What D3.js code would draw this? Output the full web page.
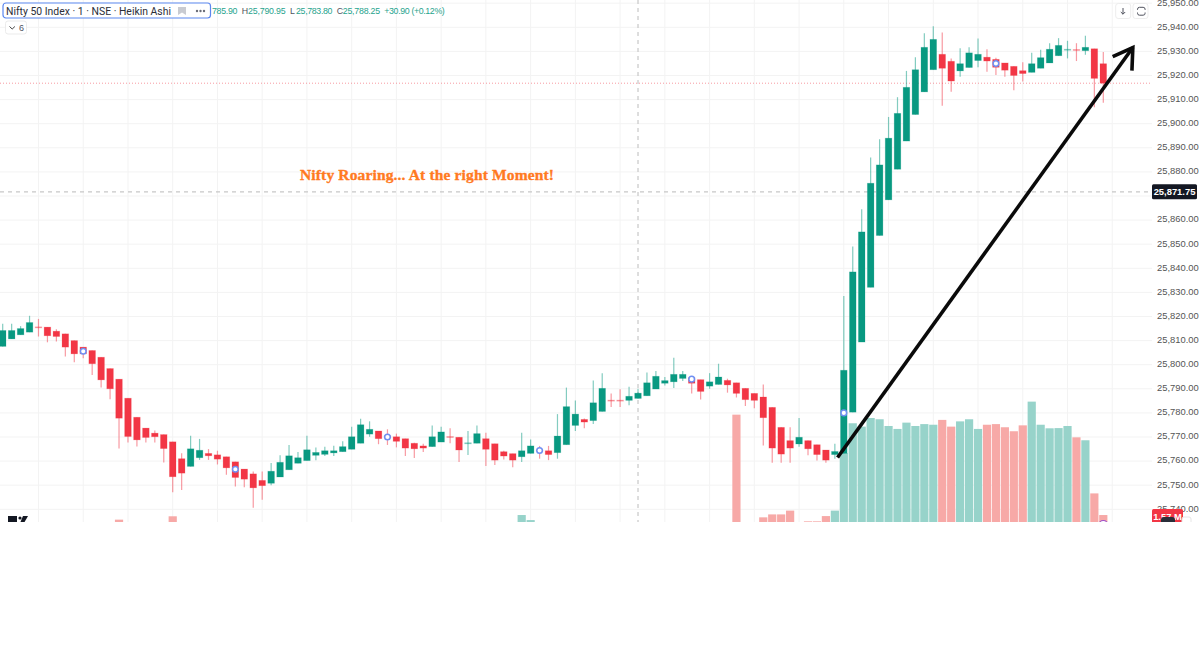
<!DOCTYPE html>
<html>
<head>
<meta charset="utf-8">
<script src="https://cdn.jsdelivr.net/npm/d3@7"></script>
<style>
  html, body { margin: 0; padding: 0; background: #fff; }
  svg { display: block; font-family: "Liberation Sans", sans-serif; }
</style>
</head>
<body>
<svg id="chart" width="1200" height="648"></svg>
<script>
// values, one entry per 1 minute candle
const opens = [25807.6,25810.7,25812.4,25813.5,25815.7,25815.6,25813.9,25812.8,25810,25807.3,
  25805.9,25803.1,25798.4,25794,25786.1,25778.2,25773.7,25771.6,25771,25768,
  25761,25757.8,25761.4,25763.2,25762.6,25761.8,25759.7,25756.7,25754.7,25752,
  25750.8,25753.4,25756.4,25759.1,25760.2,25762.4,25762.8,25763.4,25763.9,25764.9,
  25767.4,25771.2,25772.5,25770.5,25770.1,25769.3,25767.4,25766.3,25766,25767.9,
  25770.2,25769.9,25767.4,25767.4,25769.3,25767.2,25763.9,25763.1,25761.8,25763.2,
  25764.6,25764.3,25763.5,25766.8,25774.8,25777.3,25776.8,25780.6,25785.3,25785.3,
  25785.2,25786,25787.1,25789.9,25792.3,25792.9,25794.3,25794.6,25793.8,25791.1,
  25791.8,25793.5,25792.5,25790.2,25788.1,25786.6,25782.3,25774,25768.5,25767.1,
  25768.5,25766.8,25764.6,25762.7,25763.2,25780.3,25809.4,25832.1,25853.6,25868.4,
  25881.1,25892.8,25903.8,25913.2,25922.4,25928.8,25925.9,25921.9,25923.3,25926.2,
  25927.6,25926.7,25925.2,25923.8,25922,25921.3,25923,25925.2,25928.2,25930.5,
  25930.8,25930.3,25931.1,25924.9];
const closes = [25814.2,25814.2,25815,25817.5,25815.5,25812,25811.7,25807.3,25804.5,25804.5,
  25800.4,25793.7,25790,25777.8,25770.2,25768.8,25769.8,25770.1,25765.2,25753.5,
  25755,25765.1,25764.5,25762.2,25760.8,25757.2,25753.2,25752.5,25748.9,25749.8,
  25755.8,25759.5,25762.2,25761.4,25764.7,25763.6,25764.3,25764.3,25766,25770.1,
  25775.1,25773.2,25769.3,25769.8,25768.2,25765.4,25765.1,25765.4,25770.1,25772.1,
  25770,25764.6,25767.6,25771.4,25764.9,25760.4,25762.1,25760.4,25764.3,25766.3,
  25764.2,25762.7,25770.4,25782.6,25779.5,25776.2,25784.2,25790.2,25785.1,25785.1,
  25786.9,25788.2,25792.5,25795.2,25793.4,25796,25796,25792.3,25788.9,25792.9,
  25794.9,25791.6,25788.1,25785.5,25785.2,25778,25765.4,25762.9,25765.4,25769.9,
  25765.1,25762.7,25760.4,25764,25797.7,25838.5,25855.1,25875.3,25882.9,25894,
  25904.3,25915.1,25922.4,25931.7,25935,25923,25917.7,25924.9,25929.4,25928.8,
  25926,25923.4,25922.2,25920,25920.8,25924.9,25927.4,25930.9,25932.5,25930.9,
  25930.6,25931.7,25918.8,25916.8];
const highs = [25817,25817,25816,25820.3,25819,25815.6,25814.7,25812.8,25810,25807.3,
  25805.9,25803.1,25798.4,25794,25786.1,25778.2,25773.7,25772.7,25771,25768,
  25763.3,25770.5,25769.2,25765,25764.3,25761.8,25759.7,25756.7,25755.7,25755.7,
  25759.2,25762.4,25766.7,25763.8,25770.5,25765.6,25766,25766.4,25768.2,25774.3,
  25777.6,25776.5,25772.5,25773.2,25771.4,25769.3,25767.6,25767.2,25774.8,25774.3,
  25773.6,25769.9,25772.5,25774.8,25771.8,25767.2,25764.3,25763.1,25771.8,25769,
  25766.3,25766.3,25779.5,25790.5,25785.1,25777.7,25793.4,25796.5,25788.1,25789.8,
  25790.8,25790,25796.8,25797.4,25794.9,25802.9,25797.4,25794.6,25793.8,25796.5,
  25800.4,25794.2,25792.5,25790.2,25788.1,25791.8,25782.3,25774,25774,25777.9,
  25768.5,25766.8,25764.6,25767.2,25828.5,25849,25864.5,25886,25893.5,25902.8,
  25911,25921.9,25927.6,25937.5,25940.4,25937.8,25927.1,25931.3,25931.7,25935.4,
  25930.9,25927.4,25925.2,25923.8,25925.5,25929.4,25930.7,25933.4,25935.5,25934.4,
  25933.4,25936.5,25931.1,25929.8];
const lows = [25807.6,25810.7,25812.4,25813.5,25811.7,25809.3,25809.6,25803.4,25801,25802.7,
  25795.7,25790.5,25785.7,25765.2,25767.7,25766.1,25767.7,25767.7,25759.4,25747.1,
  25748,25757.8,25760.5,25760.5,25758.6,25754.3,25749.5,25749.2,25740.6,25744,
  25750,25753.4,25756.4,25759.1,25760.2,25760.4,25762.1,25762.1,25763.9,25764.9,
  25767.4,25770.1,25767,25766.7,25765.7,25762.1,25761.3,25763.8,25766,25767.9,
  25767.4,25759.6,25762.5,25767.4,25758,25758.4,25760.7,25757.4,25759.6,25763.2,
  25761,25760.4,25761,25766.8,25772.5,25773.6,25775.4,25780.6,25782.4,25782.4,
  25783.2,25786,25787.1,25789.9,25791.4,25790.3,25793.2,25788.1,25785.6,25790,
  25791.8,25788.4,25786.4,25782.9,25781.9,25766.5,25759.3,25759.3,25759.3,25766,
  25762.4,25760.2,25759.3,25761,25763.2,25780.3,25809.4,25832.1,25853.6,25868.4,
  25881.1,25892.8,25903.8,25913.2,25922.4,25907.4,25913.3,25919.5,25923.3,25923.4,
  25921.6,25920.2,25919.5,25913.9,25917.5,25921.3,25923,25925.2,25928.2,25927.1,
  25926,25928.6,25906.8,25908.7];

// only the bars tall enough to show above the cut-off edge of the picture
const volumeIndex = [13,19,58,59,82,85,86,87,88,90,91,92,93,94,95,96,97,98,99,100,101,102,103,104,
  105,106,107,108,109,110,111,112,113,114,115,116,117,118,119,120,121,122,123];
const volumeValues = [1.35,1.51,1.57,1.33,6.35,1.46,1.6,1.6,1.78,1.27,1.27,1.52,1.78,4.52,5.94,5.78,6.19,6.13,5.81,5.67,5.97,5.81,5.9,5.87,
  6.1,5.78,6.03,6.13,5.67,5.87,5.9,5.75,5.56,5.84,6.97,5.87,5.7,5.71,5.81,5.27,5.13,2.6,1.57];

const markerIndex = [9,26,43,60,77,94,111];
const markerPrices = [25805.6,25756.6,25770,25764.4,25794,25780,25925];

const axisPrices = [25950,25940,25930,25920,25910,25900,25890,25880,25860,25850,25840,25830,25820,25810,25800,25790,25780,25770,25760,25750,25740];
const gridPrices = axisPrices.concat([25870]);

const crosshairPrice = 25871.75;
const crosshairIndex = 71;
const arrowShaft = [[93.3,25761.5],[126.3,25931.6]];
const arrowBarbs = [[124.05,25927.8],[126.3,25931.6],[126.2,25922]];

const legendLabels = ["785.90","H","25,790.95","L","25,783.80","C","25,788.25","+30.90 (+0.12%)"];
const legendStarts = [212,241.7,248,290,296,336.7,342.7,384.3];
const legendWidths = [25.5,0,37.7,0,36.5,0,37.5,60.5];

const UP = "#089981", DOWN = "#f23645";
const paneRight = 1152, paneBottom = 522;

const svg = d3.select("#chart");
svg.append("rect").attr("width", 1200).attr("height", 648).attr("fill", "#fff");

svg.append("clipPath").attr("id", "cut").append("rect")
  .attr("width", 1200).attr("height", paneBottom);
svg.append("clipPath").attr("id", "pane").append("rect")
  .attr("width", paneRight).attr("height", paneBottom);

const x = d3.scaleLinear().domain([0, 123]).range([2.7, 1103.3]);
const y = d3.scaleLinear().domain([25940, 25740]).range([27.3, 509.3]);
const yVol = d3.scaleLinear().domain([0, 7]).range([548, 401]);

const root = svg.append("g").attr("clip-path", "url(#cut)");
const pane = root.append("g").attr("clip-path", "url(#pane)");

// grid
pane.append("g").selectAll("line").data(gridPrices).join("line")
  .attr("x1", 0).attr("x2", paneRight)
  .attr("y1", d => y(d)).attr("y2", d => y(d))
  .attr("stroke", "#f3f3f3");
pane.append("g").selectAll("line").data(d3.range(4, 125, 5)).join("line")
  .attr("x1", d => x(d)).attr("x2", d => x(d))
  .attr("y1", 0).attr("y2", paneBottom)
  .attr("stroke", "#f3f3f3");

// volume
pane.append("g").selectAll("rect").data(volumeIndex).join("rect")
  .attr("x", d => x(d) - 4.1)
  .attr("width", 8.2)
  .attr("y", (d, i) => yVol(volumeValues[i]))
  .attr("height", (d, i) => yVol(0) - yVol(volumeValues[i]))
  .attr("fill", d => closes[d] >= opens[d] ? "#97d3ca" : "#f7a9a7");

// crosshair and last price lines
pane.append("line")
  .attr("x1", 0).attr("x2", paneRight)
  .attr("y1", y(crosshairPrice)).attr("y2", y(crosshairPrice))
  .attr("stroke", "#c8c8c8").attr("stroke-width", 1.2).attr("stroke-dasharray", "4 4");
pane.append("line")
  .attr("x1", x(crosshairIndex)).attr("x2", x(crosshairIndex))
  .attr("y1", 0).attr("y2", paneBottom)
  .attr("stroke", "#c8c8c8").attr("stroke-width", 1.2).attr("stroke-dasharray", "4 4");
pane.append("line")
  .attr("x1", 0).attr("x2", paneRight)
  .attr("y1", y(closes[123])).attr("y2", y(closes[123]))
  .attr("stroke", DOWN).attr("stroke-opacity", 0.5).attr("stroke-dasharray", "1 2");

// candles
const candles = pane.append("g").selectAll("g").data(d3.range(opens.length)).join("g");
candles.append("line")
  .attr("x1", d => x(d)).attr("x2", d => x(d))
  .attr("y1", d => y(highs[d])).attr("y2", d => y(lows[d]))
  .attr("stroke", d => closes[d] >= opens[d] ? UP : DOWN)
  .attr("stroke-opacity", 0.5)
  .attr("stroke-width", 1.2);
candles.append("rect")
  .attr("x", d => x(d) - 3.3)
  .attr("width", 6.6)
  .attr("y", d => y(Math.max(opens[d], closes[d])))
  .attr("height", d => Math.max(1, Math.abs(y(opens[d]) - y(closes[d]))))
  .attr("fill", d => closes[d] >= opens[d] ? UP : DOWN)
  .attr("fill-opacity", d => Math.abs(opens[d] - closes[d]) < 0.5 ? 0.5 : 1)
  .attr("stroke", d => closes[d] >= opens[d] ? UP : DOWN)
  .attr("stroke-opacity", 0.25)
  .attr("stroke-width", 0.8);

// little chart markers sitting on some candles
pane.append("g").selectAll("circle").data(markerIndex).join("circle")
  .attr("cx", d => x(d))
  .attr("cy", (d, i) => y(markerPrices[i]))
  .attr("r", 2.8)
  .attr("fill", "#fff")
  .attr("stroke", "#6f8ff2")
  .attr("stroke-width", 1.5);
pane.append("circle")
  .attr("cx", x(123)).attr("cy", 525).attr("r", 4.5)
  .attr("fill", "#fff").attr("stroke", "#9c4fc9").attr("stroke-width", 1.2);

// headline
root.append("text")
  .attr("x", 300).attr("y", 180)
  .attr("font-family", "'Liberation Serif', serif")
  .attr("font-weight", "bold")
  .attr("font-size", 15.5)
  .attr("textLength", 254)
  .attr("lengthAdjust", "spacing")
  .attr("fill", "#ff7a1f")
  .attr("stroke", "#ff7a1f")
  .attr("stroke-width", 0.35)
  .text("Nifty Roaring... At the right Moment!");

// hand drawn arrow
const arrowLine = d3.line().x(d => x(d[0])).y(d => y(d[1]));
[arrowShaft, arrowBarbs].forEach(pts => {
  root.append("path")
    .attr("d", arrowLine(pts))
    .attr("fill", "none")
    .attr("stroke", "#0a0a0a")
    .attr("stroke-width", 3.6);
});

// price axis
const axis = root.append("g")
  .attr("transform", `translate(${paneRight},0)`)
  .call(d3.axisRight(y).tickValues(axisPrices).tickSize(0).tickPadding(5).tickFormat(d3.format(",.2f")));
axis.select(".domain").remove();
axis.selectAll("text")
  .attr("font-family", "'Liberation Sans', sans-serif")
  .attr("font-size", 9.4)
  .attr("fill", "#555")
  .attr("dy", "0.2em");

// crosshair tag
root.append("rect")
  .attr("x", paneRight).attr("y", y(crosshairPrice) - 7.5)
  .attr("width", 45).attr("height", 15).attr("rx", 1.5)
  .attr("fill", "#131722");
root.append("text")
  .attr("x", paneRight + 22.5).attr("y", y(crosshairPrice) + 3.3)
  .attr("text-anchor", "middle")
  .attr("font-size", 9.4).attr("font-weight", "bold").attr("fill", "#fff")
  .text(d3.format(",.2f")(crosshairPrice));

// volume tag and the cut-off buttons at the bottom of the axis
root.append("rect")
  .attr("x", paneRight).attr("y", 509).attr("width", 31).attr("height", 15).attr("rx", 1.5)
  .attr("fill", "#f23645");
root.append("text")
  .attr("x", paneRight + 15.5).attr("y", 520)
  .attr("text-anchor", "middle")
  .attr("font-size", 9.4).attr("font-weight", "bold").attr("fill", "#fff")
  .text("1.57 M");
root.append("rect")
  .attr("x", 1161).attr("y", 517).attr("width", 14).attr("height", 10).attr("rx", 3)
  .attr("fill", "#2a2e39");
root.append("rect")
  .attr("x", 1182).attr("y", 517).attr("width", 9).attr("height", 10).attr("rx", 2)
  .attr("fill", "#fff").attr("stroke", "#e6e6e6");

// logo stub at the bottom left, cut by the edge
const logo = root.append("g").attr("fill", "#131722");
logo.append("rect").attr("x", 8).attr("y", 516).attr("width", 9).attr("height", 6);
logo.append("circle").attr("cx", 20).attr("cy", 518).attr("r", 1.6);
logo.append("path").attr("d", "M23 516h5l-4 7h-4z");

// legend box
root.append("rect")
  .attr("x", 3).attr("y", 3).attr("width", 207.5).attr("height", 15).attr("rx", 3)
  .attr("fill", "#fff").attr("stroke", "#5b87ef").attr("stroke-width", 1.2);
root.append("text")
  .attr("x", 6).attr("y", 14.5)
  .attr("font-family", "Roboto, sans-serif")
  .attr("font-size", 10.4)
  .attr("textLength", 165)
  .attr("lengthAdjust", "spacing")
  .attr("fill", "#2a2e39")
  .text("Nifty 50 Index · 1 · NSE · Heikin Ashi");
root.append("path").attr("d", "M178 7h8v8l-4-2.5-4 2.5z").attr("fill", "#c9cbd1");
root.append("g").selectAll("circle").data([197, 200.5, 204]).join("circle")
  .attr("cx", d => d).attr("cy", 11).attr("r", 1.2).attr("fill", "#6a6d78");

root.append("g").selectAll("text").data(legendLabels).join("text")
  .attr("x", (d, i) => legendStarts[i])
  .attr("y", 14.3)
  .attr("font-size", 8.8)
  .attr("fill", (d, i) => legendWidths[i] ? "#1fa38d" : "#50535e")
  .each(function(d, i) {
    if (legendWidths[i]) d3.select(this).attr("textLength", legendWidths[i]).attr("lengthAdjust", "spacing");
  })
  .text(d => d);

// collapsed indicators button
root.append("rect")
  .attr("x", 5.5).attr("y", 21).attr("width", 21).attr("height", 13).attr("rx", 2.5)
  .attr("fill", "#fff").attr("stroke", "#ebebeb");
root.append("path").attr("d", "M9.5 26.5l2.7 2.5 2.7-2.5").attr("fill", "none").attr("stroke", "#444").attr("stroke-width", 1);
root.append("text").attr("x", 19).attr("y", 31).attr("font-size", 9).attr("fill", "#50535e").text("6");

// top right buttons
root.append("g").selectAll("rect").data([1115.7, 1133]).join("rect")
  .attr("x", d => d).attr("y", 3.5).attr("width", 15).attr("height", 15).attr("rx", 2.5)
  .attr("fill", "#fff").attr("stroke", "#ededed");
root.append("path").attr("d", "M1123 8v6.2M1120.8 12l2.2 2.2 2.2-2.2").attr("fill", "none").attr("stroke", "#50535e");
root.append("path").attr("d", "M1137.5 10v-.7a2 2 0 0 1 2-2h3.6a2 2 0 0 1 2 2v.7M1137.5 12.5v.7a2 2 0 0 0 2 2h3.6a2 2 0 0 0 2-2v-.7").attr("fill", "none").attr("stroke", "#50535e");
</script>
</body>
</html>
